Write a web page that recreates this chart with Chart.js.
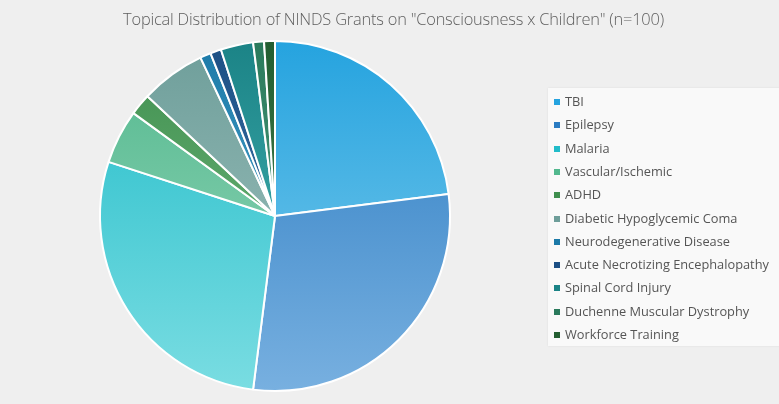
<!DOCTYPE html>
<html><head><meta charset="utf-8">
<script src="https://cdn.jsdelivr.net/npm/chart.js@4/dist/chart.umd.min.js"></script>
<style>
html,body{margin:0;padding:0;}
body{width:779px;height:404px;background:#efefef;position:relative;overflow:hidden;font-family:"Open Sans","Liberation Sans",sans-serif;}
#title{position:absolute;left:4px;width:779px;top:7px;text-align:center;font-size:16.4px;color:#5e5e5e;letter-spacing:-0.2px;font-family:"Open Sans",sans-serif;font-weight:300;}
#wrap{position:absolute;left:0;top:0;width:779px;height:404px;}
#legend{position:absolute;left:548px;top:88px;width:240px;height:258px;background:#f9f9f9;box-shadow:0 0 2px rgba(0,0,0,0.08);}
#legend div{position:absolute;left:6px;font-size:12.8px;color:#555;white-space:nowrap;line-height:14px;}
#legend span{display:inline-block;width:6px;height:6px;margin-right:5px;vertical-align:1px;}
</style></head>
<body>
<div id="wrap"><canvas id="c" width="779" height="404"></canvas></div>
<div id="title">Topical Distribution of NINDS Grants on "Consciousness x Children" (n=100)</div>
<div id="legend"></div>
<script>
const categories = ["TBI","Epilepsy","Malaria","Vascular/Ischemic","ADHD","Diabetic Hypoglycemic Coma","Neurodegenerative Disease","Acute Necrotizing Encephalopathy","Spinal Cord Injury","Duchenne Muscular Dystrophy","Workforce Training"];
const grants = [23,29,28,5,2,6,1,1,3,1,1];
const topColors = ["#25a3df","#2b7cc2","#22bcc9","#52b88e","#3f8f4e","#6e9e9a","#1c7aa8","#1c4f84","#1b8386","#2a7a5c","#235e31"];
const bottomColors = ["#82cdec","#78b0e0","#7adde2","#9ad8bc","#7cc088","#a4c6c2","#5cb0d4","#4c84b8","#4cbcbc","#5ca88a","#4f8c5c"];

const legend = document.getElementById('legend');
categories.forEach((name,i)=>{
  const d=document.createElement('div');
  d.style.top=(6+i*23.3)+'px';
  d.innerHTML='<span style="background:'+topColors[i]+'"></span>'+name;
  legend.appendChild(d);
});

const ctx=document.getElementById('c').getContext('2d');
new Chart(ctx,{
  type:'pie',
  data:{labels:categories,datasets:[{data:grants,
    backgroundColor:(c)=>{
      const area=c.chart.chartArea; const i=c.dataIndex;
      if(!area) return topColors[i];
      const g=c.chart.ctx.createLinearGradient(0,area.top,0,area.bottom);
      g.addColorStop(0,topColors[i]); g.addColorStop(1,bottomColors[i]);
      return g;
    },
    borderColor:'#ffffff',borderWidth:2}]},
  options:{responsive:false,animation:false,
    layout:{padding:{left:99,right:328,top:40,bottom:12}},
    plugins:{legend:{display:false},title:{display:false},tooltip:{enabled:false}}}
});
</script>
</body></html>
